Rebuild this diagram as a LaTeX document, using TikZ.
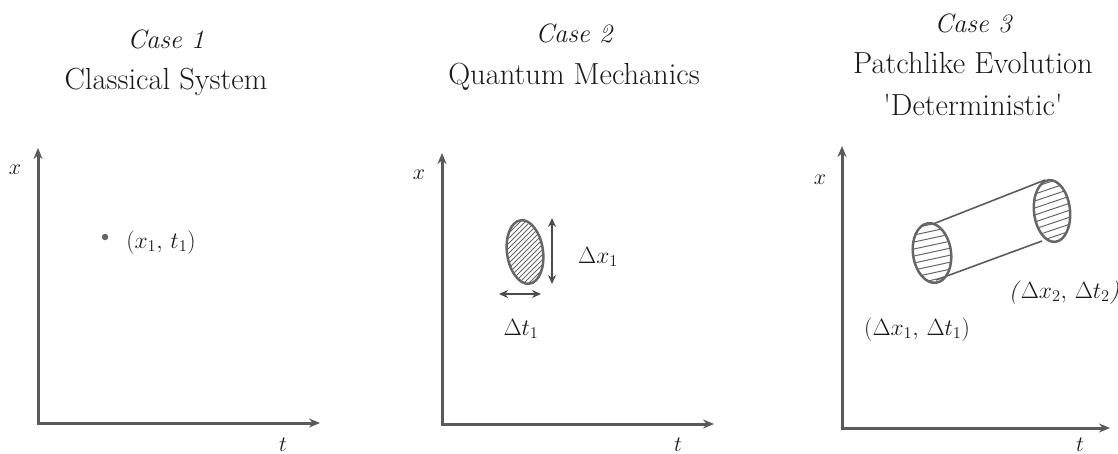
\RequirePackage{fix-cm}
\documentclass[tikz,border=0pt]{standalone}
\usepackage{textcomp}
\usetikzlibrary{arrows.meta}
\definecolor{axisgray}{HTML}{5A5A5A}
\definecolor{inkgray}{HTML}{666666}
\definecolor{txt}{HTML}{1A1A1A}
\begin{document}
\begin{tikzpicture}[x=1pt,y=-1pt,
  axis/.style={draw=axisgray, line width=3pt, line cap=round,
    {Stealth[length=11pt,width=9pt]}-{Stealth[length=11pt,width=9pt]}},
  dbl/.style={draw=axisgray!85!black, line width=2.4pt,
    {Stealth[length=9pt,width=8pt]}-{Stealth[length=9pt,width=8pt]}},
  casetitle/.style={text=txt, anchor=base, inner sep=0pt, font=\fontsize{26.5}{30}\selectfont\itshape},
  maintitle/.style={text=txt, anchor=base, inner sep=0pt, font=\fontsize{30.5}{34}\selectfont},
  mlabel/.style={text=txt, anchor=base, inner sep=0pt, font=\fontsize{23.5}{27}\selectfont},
  axlabel/.style={text=txt, anchor=base, inner sep=0pt, font=\fontsize{22}{26}\selectfont},
  blob/.style={draw=inkgray, line width=2.5pt},
  hatch/.style={draw=inkgray, line width=1pt},
  cyl/.style={draw=inkgray!90!black, line width=1.6pt}
]
\useasboundingbox (0,0) rectangle (1118,454);

% ---------------- Case 1 ----------------
\node[casetitle] (c1) at (166,49) {Case 1};
\node[maintitle] (m1) at (166,90) {Classical System};
\coordinate (y1) at (38,148);
\coordinate (o1) at (38,423);
\coordinate (e1) at (320,423);
\draw[axis] (y1) -- (o1) -- (e1);
\node[axlabel] (xl1) at (15,175) {$x$};
\node[axlabel] (tl1) at (283,451) {$t$};
\node[circle, fill=inkgray, inner sep=0pt, minimum size=6.5pt] (p1) at (105,237) {};
\node[mlabel] (pl1) at (161,248) {$(x_1,\, t_1)$};

% ---------------- Case 2 ----------------
\node[casetitle] (c2) at (574,43) {Case 2};
\node[maintitle] (m2) at (574,85) {Quantum Mechanics};
\coordinate (y2) at (442,153);
\coordinate (o2) at (442,424);
\coordinate (e2) at (714,424);
\draw[axis] (y2) -- (o2) -- (e2);
\node[axlabel] (xl2) at (419,180) {$x$};
\node[axlabel] (tl2) at (678,451) {$t$};
\begin{scope}
  \clip (525,252) ellipse [x radius=18, y radius=32, rotate=8];
  \foreach \i in {-70,-65,...,70}
    \draw[hatch] (525+\i-40,292) -- (525+\i+40,212);
\end{scope}
\draw[blob] (525,252) ellipse [x radius=18, y radius=32, rotate=8];
\coordinate (a2t) at (552,218);
\coordinate (a2b) at (552,284);
\draw[dbl] (a2t) -- (a2b);
\node[mlabel] (dx1) at (598,263) {$\Delta x_1$};
\coordinate (h2l) at (499,294);
\coordinate (h2r) at (541,294);
\draw[dbl] (h2l) -- (h2r);
\node[mlabel] (dt1) at (521,335) {$\Delta t_1$};

% ---------------- Case 3 ----------------
\node[casetitle] (c3) at (973,33) {Case 3};
\node[maintitle] (m3a) at (973,74) {Patchlike Evolution};
\node[maintitle] (m3b) at (973,116) {\textquotesingle Deterministic\textquotesingle};
\coordinate (y3) at (842,146);
\coordinate (o3) at (842,428);
\coordinate (e3) at (1110,428);
\draw[axis] (y3) -- (o3) -- (e3);
\node[axlabel] (xl3) at (820,185) {$x$};
\node[axlabel] (tl3) at (1080,451) {$t$};
% cylinder sides
\coordinate (lt) at (933,224);
\coordinate (lb) at (936,280);
\coordinate (rt) at (1045,180);
\coordinate (rb) at (1042,241);
\draw[cyl] (lt) -- (rt);
\draw[cyl] (lb) -- (rb);
% right cap
\begin{scope}
  \clip (1052,211) ellipse [x radius=18, y radius=31, rotate=6];
  \foreach \i in {-50,-43,...,60}
    \draw[hatch] (1020,211+\i+10) -- (1085,211+\i-12);
\end{scope}
\draw[blob] (1052,211) ellipse [x radius=18, y radius=31, rotate=6];
% left cap
\begin{scope}
  \clip (932,253) ellipse [x radius=19, y radius=30, rotate=8];
  \foreach \i in {-50,-43,...,60}
    \draw[hatch] (900,253+\i+7) -- (965,253+\i-7);
\end{scope}
\draw[blob] (932,253) ellipse [x radius=19, y radius=30, rotate=8];
\node[mlabel] (lab2) at (1064,298) {\textit{(}$\Delta x_2,\, \Delta t_2$\textit{)}};
\node[mlabel] (lab1) at (917,335) {$(\Delta x_1,\, \Delta t_1)$};
\end{tikzpicture}
\end{document}
